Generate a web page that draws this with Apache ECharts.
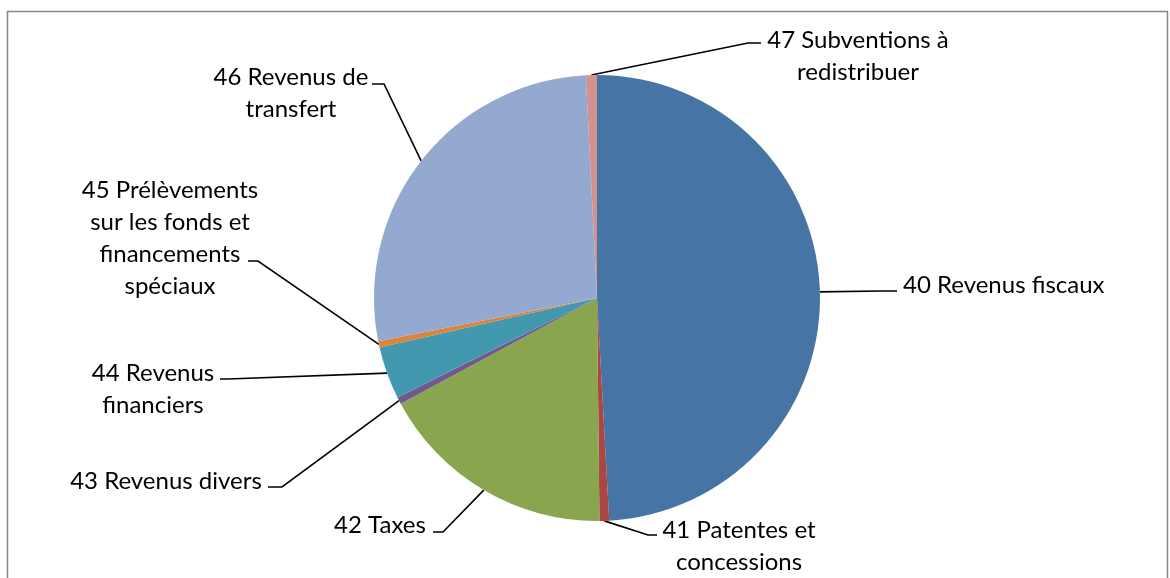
<!DOCTYPE html>
<html><head><meta charset="utf-8">
<script src="https://cdn.jsdelivr.net/npm/echarts@6/dist/echarts.min.js"></script>
<style>html,body{margin:0;padding:0;background:#fff}#c{width:1170px;height:578px}</style>
</head><body><div id="c"></div>
<script>
// ---- data ----
const categories = [
  '40 Revenus fiscaux',
  '41 Patentes et\nconcessions',
  '42 Taxes',
  '43 Revenus divers',
  '44 Revenus\nfinanciers',
  '45 Prélèvements\nsur les fonds et\nfinancements\nspéciaux',
  '46 Revenus de\ntransfert',
  '47 Subventions à\nredistribuer'
];
const values = [49.1, 0.7, 17.3, 0.5, 3.8, 0.45, 27.3, 0.8];

// ---- styles / layout ----
const colors = ['#4674A5', '#AA4643', '#89A54E', '#71588F', '#4198AF', '#DB843D', '#93A9CF', '#D19392'];
// [textX, textMiddleY, align, lineEndX, lineEndY, elbowX]
const labelSpots = [
  [903, 285, 'left',   897, 291, 880],
  [739, 546, 'center', 657, 535, 648],
  [380, 525, 'center', 433, 532, 443],
  [166, 481, 'center', 268, 487, 282],
  [153, 389, 'center', 220, 379, 228],
  [170, 238, 'center', 248, 261, 258],
  [291, 93,  'center', 372, 84,  384],
  [858, 56,  'center', 761, 43,  748]
];

const chart = echarts.init(document.getElementById('c'), null, {renderer: 'canvas'});
chart.setOption({
  animation: false,
  color: colors,
  graphic: [{
    type: 'rect', shape: {x: 7.5, y: 11.5, width: 1160, height: 600},
    style: {fill: 'none', stroke: '#878787', lineWidth: 1.5}, silent: true, z: -1
  }],
  series: [{
    type: 'pie',
    center: [597, 298],
    radius: 223,
    startAngle: 90,
    clockwise: true,
    avoidLabelOverlap: false,
    data: categories.map((n, i) => ({name: n, value: values[i]})),
    label: {
      show: true, position: 'outside', formatter: '{b}',
      color: '#000', fontSize: 24, lineHeight: 32,
      fontFamily: 'Lato, "Open Sans", sans-serif'
    },
    labelLine: {show: true, length: 10, length2: 10, lineStyle: {color: '#000', width: 1.6}},
    labelLayout: function (p) {
      const s = labelSpots[p.dataIndex];
      const p0 = p.labelLinePoints ? p.labelLinePoints[0] : [s[5], s[4]];
      return {
        x: s[0], y: s[1], align: s[2], verticalAlign: 'middle',
        labelLinePoints: [p0, [s[5], s[4]], [s[3], s[4]]]
      };
    },
    emphasis: {disabled: true}
  }]
});
</script></body></html>
